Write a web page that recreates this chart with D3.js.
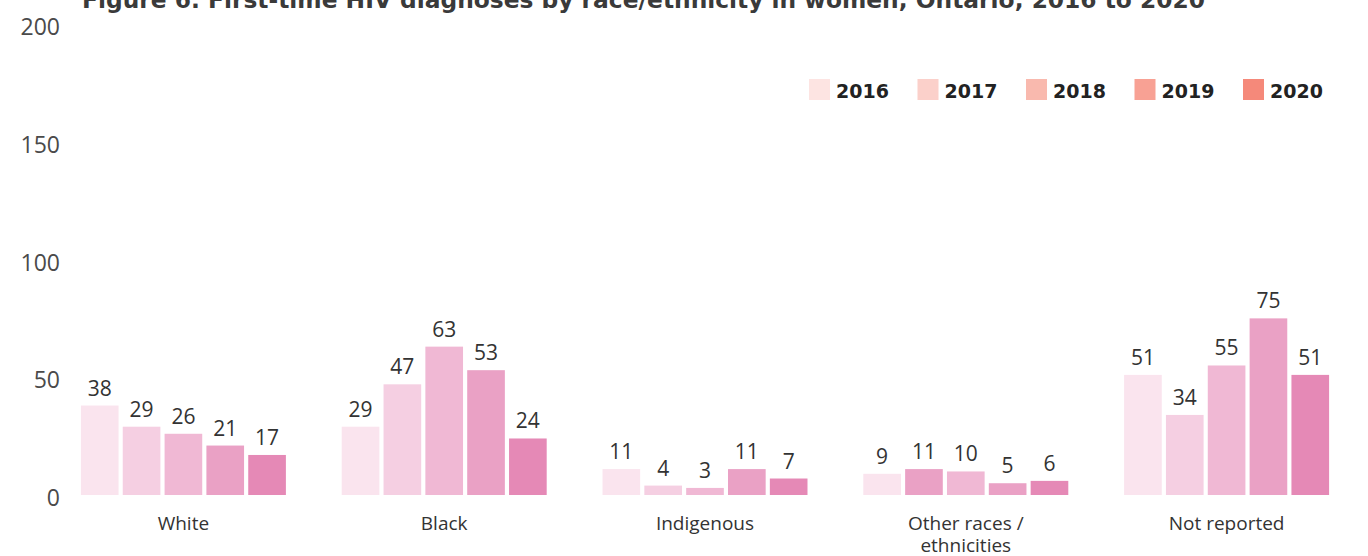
<!DOCTYPE html>
<html>
<head>
<meta charset="utf-8">
<script src="https://cdn.jsdelivr.net/npm/d3@7"></script>
<style>
  body { margin: 0; background: #fff; }
</style>
</head>
<body>
<script>
    // data
    categories = ["White", "Black", "Indigenous", "Other races / ethnicities", "Not reported"]
    years = ["2016", "2017", "2018", "2019", "2020"]
    v2016 = [38, 29, 11, 9, 51]
    v2017 = [29, 47, 4, 11, 34]
    v2018 = [26, 63, 3, 10, 55]
    v2019 = [21, 53, 11, 5, 75]
    v2020 = [17, 24, 7, 6, 51]
    yTicks = [0, 50, 100, 150, 200]
    barColors = ["#fae4ee", "#f5cfe2", "#f0b8d4", "#eaa1c5", "#e589b6"]
    legendColors = ["#fde4e2", "#fbd0ca", "#f9b9ae", "#f8a194", "#f5897a"]
    // the 2017 "Other races" bar is drawn in the 2019 shade in the original
    colorOverride = {"Other races / ethnicities|2017": "#eaa1c5"}

    var seriesVals = [v2016, v2017, v2018, v2019, v2020]
    var sans = '"Open Sans", sans-serif'

    var W = 1368, H = 556
    var svg = d3.select("body").append("svg")
        .attr("width", W).attr("height", H)

    var x0 = d3.scaleBand().domain(categories).range([53, 1357])
        .paddingInner(0.214).paddingOuter(0.107)
    var x1 = d3.scaleBand().domain(years).range([0, x0.bandwidth()])
        .paddingInner(0.1).paddingOuter(0)
    var y = d3.scaleLinear().domain([0, 200]).range([495, 24])

    // title (clipped at the top like the original)
    svg.append("text")
        .attr("x", 82).attr("y", 8)
        .attr("textLength", 1123).attr("lengthAdjust", "spacingAndGlyphs")
        .style("font-family", "DejaVu Sans").style("font-weight", "bold")
        .style("font-size", "23px").attr("fill", "#3a3a3a")
        .text("Figure 6. First-time HIV diagnoses by race/ethnicity in women, Ontario, 2016 to 2020")

    // y axis labels
    svg.selectAll(".ytick").data(yTicks).enter().append("text")
        .attr("class", "ytick")
        .attr("x", 60).attr("y", function (d) { return y(d) + 5 })
        .attr("text-anchor", "end").attr("dominant-baseline", "middle")
        .style("font-family", sans).style("font-size", "23px").attr("fill", "#4a4a4a")
        .text(function (d) { return d })

    // bars
    var groups = svg.selectAll(".grp").data(categories).enter().append("g")
        .attr("class", "grp")
        .attr("transform", function (d) { return "translate(" + x0(d) + ",0)" })

    groups.each(function (cat, ci) {
        var cells = years.map(function (yr, si) {
            return {cat: cat, year: yr, si: si, value: seriesVals[si][ci]}
        })
        var g = d3.select(this)
        g.selectAll("rect").data(cells).enter().append("rect")
            .attr("x", function (d) { return x1(d.year) })
            .attr("y", function (d) { return y(d.value) })
            .attr("width", x1.bandwidth())
            .attr("height", function (d) { return y(0) - y(d.value) })
            .style("fill", function (d) { return colorOverride[d.cat + "|" + d.year] || barColors[d.si] })
        g.selectAll(".val").data(cells).enter().append("text")
            .attr("class", "val")
            .attr("x", function (d) { return x1(d.year) + x1.bandwidth() / 2 })
            .attr("y", function (d) { return y(d.value) - 10 })
            .attr("text-anchor", "middle")
            .style("font-family", sans).style("font-size", "21px").attr("fill", "#333")
            .text(function (d) { return d.value })
    })

    // category labels
    groups.append("text")
        .attr("x", x0.bandwidth() / 2).attr("y", 530)
        .attr("text-anchor", "middle")
        .style("font-family", sans).style("font-size", "19px").attr("fill", "#333")
        .each(function (d) {
            var parts = d == "Other races / ethnicities" ? ["Other races /", "ethnicities"] : [d]
            var t = d3.select(this)
            parts.forEach(function (p, i) {
                t.append("tspan").attr("x", x0.bandwidth() / 2).attr("dy", i == 0 ? 0 : 22).text(p)
            })
        })

    // legend
    var legend = svg.selectAll(".leg").data(years).enter().append("g")
        .attr("class", "leg")
        .attr("transform", function (d, i) { return "translate(" + (809 + i * 108.5) + ",79)" })
    legend.append("rect")
        .attr("width", 21).attr("height", 21)
        .style("fill", function (d, i) { return legendColors[i] })
    legend.append("text")
        .attr("x", 27).attr("y", 19)
        .style("font-family", "DejaVu Sans").style("font-weight", "bold")
        .style("font-size", "19px").attr("fill", "#222")
        .text(function (d) { return d })
</script>
</body>
</html>
